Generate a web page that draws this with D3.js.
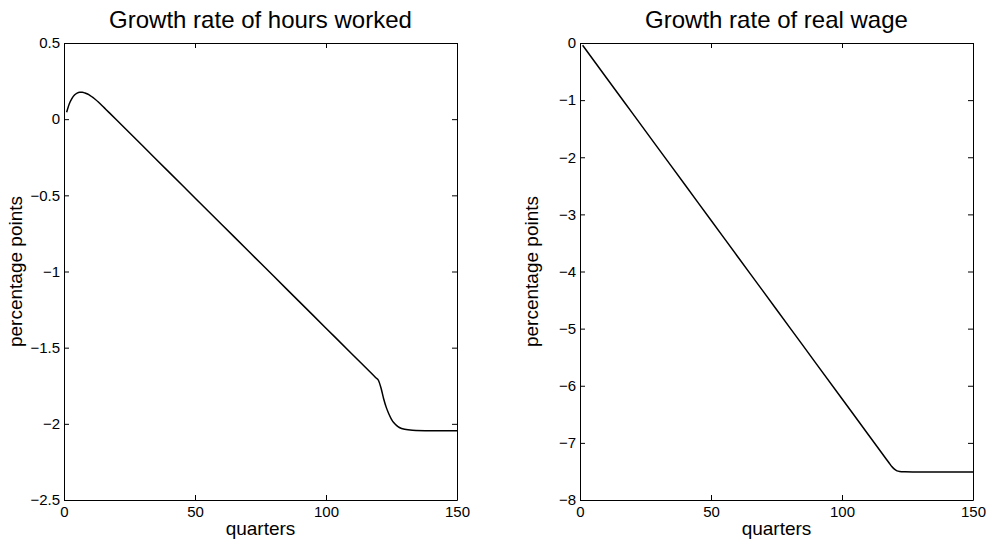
<!DOCTYPE html>
<html>
<head>
<meta charset="utf-8">
<script src="https://cdn.jsdelivr.net/npm/d3@7"></script>
<style>
  body { margin: 0; background: #fff; }
  svg { display: block; font-family: "Liberation Sans", Arial, Helvetica, sans-serif; }
</style>
</head>
<body>
<div id="chart"></div>
<script>
// Growth rate of hours worked (percentage points), by quarter
const hoursQuarters = [1, 2, 3, 4, 5, 6, 7, 8, 9, 10, 11, 12, 13, 14, 15, 16, 20, 30, 40, 50, 60, 70, 80, 90, 100, 110, 118, 119, 120,
    121, 122, 123, 124, 125, 126, 127, 128, 130, 133, 140, 150];
const hoursValues = [0.045, 0.10, 0.135, 0.158, 0.171, 0.176, 0.176, 0.172, 0.165, 0.155, 0.143, 0.129, 0.114, 0.098, 0.081, 0.064,
    -0.004, -0.175, -0.346, -0.517, -0.688, -0.859, -1.030, -1.201, -1.372, -1.543, -1.680, -1.697, -1.714,
    -1.765, -1.835, -1.892, -1.935, -1.970, -1.995, -2.012, -2.024, -2.036, -2.042, -2.045, -2.046];

// Growth rate of real wage (percentage points), by quarter
const wageQuarters = [1, 10, 20, 30, 40, 50, 60, 70, 80, 90, 100, 110, 117, 118, 119, 120, 121, 122, 124, 130, 150];
const wageValues = [-0.04, -0.603, -1.228, -1.853, -2.478, -3.103, -3.728, -4.353, -4.978, -5.603, -6.228, -6.853,
    -7.290, -7.353, -7.415, -7.46, -7.49, -7.50, -7.505, -7.51, -7.51];

const quarterTicks = [0, 50, 100, 150];
const hoursTicks = [0.5, 0, -0.5, -1, -1.5, -2, -2.5];
const wageTicks = [0, -1, -2, -3, -4, -5, -6, -7, -8];

const width = 989, height = 545;
const svg = d3.select("#chart").append("svg")
    .attr("width", width)
    .attr("height", height);

const panels = [
    { title: "Growth rate of hours worked", left: 64, xs: hoursQuarters, ys: hoursValues, ticks: hoursTicks, domain: [-2.5, 0.5] },
    { title: "Growth rate of real wage", left: 580, xs: wageQuarters, ys: wageValues, ticks: wageTicks, domain: [-8, 0] }
];

const plotTop = 43, plotBottom = 500, plotW = 393;
const fmt = d3.format("~g");

panels.forEach(p => {
    const x = d3.scaleLinear().domain([0, 150]).range([p.left, p.left + plotW]);
    const y = d3.scaleLinear().domain(p.domain).range([plotBottom, plotTop]);

    const g = svg.append("g");

    // axes (ticks pointing inward, Matlab style box)
    g.append("g").attr("transform", `translate(0,${plotBottom})`)
        .call(d3.axisBottom(x).tickValues(quarterTicks).tickFormat(fmt).tickSizeInner(-5).tickSizeOuter(0).tickPadding(6));
    g.append("g").attr("transform", `translate(0,${plotTop})`)
        .call(d3.axisTop(x).tickValues(quarterTicks).tickFormat("").tickSizeInner(-5).tickSizeOuter(0));
    g.append("g").attr("transform", `translate(${p.left},0)`)
        .call(d3.axisLeft(y).tickValues(p.ticks).tickFormat(fmt).tickSizeInner(-5).tickSizeOuter(0).tickPadding(4));
    g.append("g").attr("transform", `translate(${p.left + plotW},0)`)
        .call(d3.axisRight(y).tickValues(p.ticks).tickFormat("").tickSizeInner(-5).tickSizeOuter(0));

    g.selectAll(".domain").attr("stroke", "#000").attr("stroke-width", 1);
    g.selectAll(".tick line").attr("stroke", "#000").attr("stroke-width", 1);
    g.selectAll(".tick text").attr("fill", "#000").style("font-size", "15px")
        .style("font-family", "'Liberation Sans', Arial, sans-serif");

    // curve
    const pts = p.xs.map((q, i) => [q, p.ys[i]]);
    g.append("path")
        .datum(pts)
        .attr("fill", "none")
        .attr("stroke", "#000")
        .attr("stroke-width", 1.5)
        .attr("d", d3.line().x(d => x(d[0])).y(d => y(d[1])).curve(d3.curveMonotoneX));

    // labels
    g.append("text")
        .attr("x", p.left + plotW / 2)
        .attr("y", 28)
        .attr("text-anchor", "middle")
        .style("font-size", "24px")
        .text(p.title);

    g.append("text")
        .attr("x", p.left + plotW / 2)
        .attr("y", 535)
        .attr("text-anchor", "middle")
        .style("font-size", "19px")
        .text("quarters");

    g.append("text")
        .attr("transform", `translate(${p.left - 42},${(plotTop + plotBottom) / 2}) rotate(-90)`)
        .attr("text-anchor", "middle")
        .style("font-size", "19px")
        .text("percentage points");
});
</script>
</body>
</html>
